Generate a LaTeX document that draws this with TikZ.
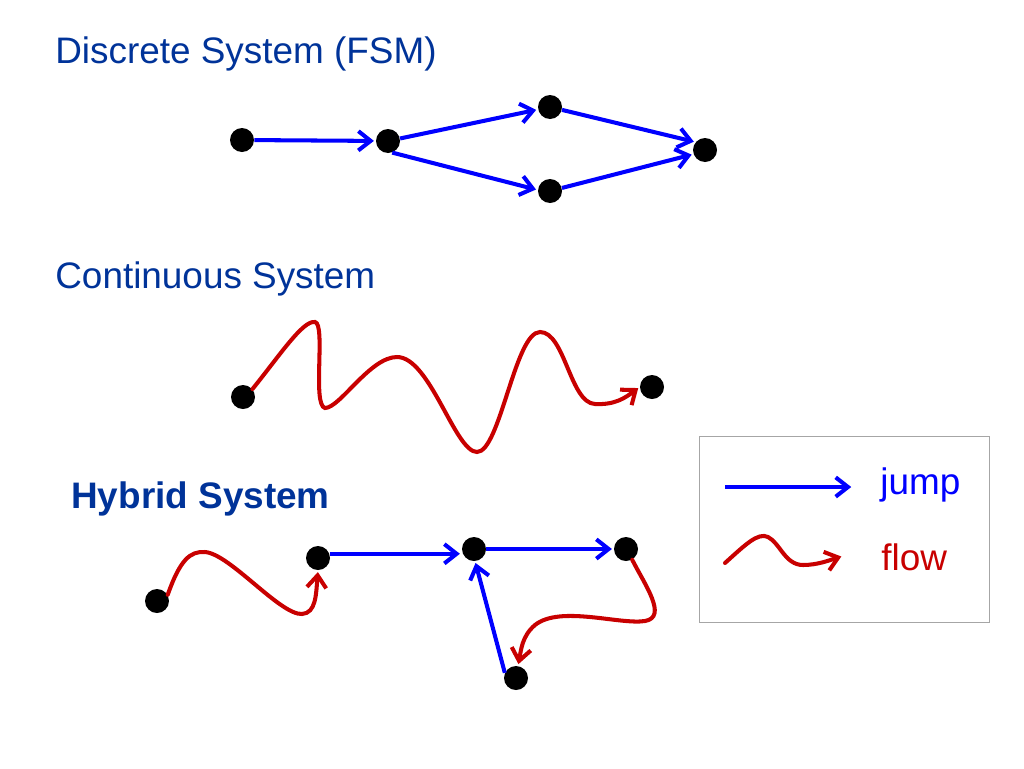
\documentclass[tikz,border=0pt]{standalone}
\usepackage{fontspec}
\setmainfont{Liberation Sans}
\usetikzlibrary{arrows.meta}
\definecolor{titleblue}{RGB}{0,51,153}
\definecolor{flowred}{RGB}{200,0,0}

\begin{document}
\begin{tikzpicture}[x=0.02cm,y=-0.02cm,
    dot/.style={circle,fill=black,inner sep=0pt,minimum size=0.48cm},
    jump/.style={blue,line width=2.3pt,-{Straight Barb[length=7pt,width=11pt]},shorten >=1pt},
    flow/.style={flowred,line width=2.3pt,line cap=round,-{Straight Barb[length=7pt,width=11pt]},shorten >=1pt},
    title/.style={anchor=base west,inner sep=0pt,titleblue,font=\fontsize{21}{25}\selectfont},
    legend/.style={anchor=base west,inner sep=0pt,font=\fontsize{21}{25}\selectfont}]
    \useasboundingbox (0,0) rectangle (1024,768);

    % discrete system
    \node[title] (tdisc) at (55,63) {Discrete System (FSM)};
    \node[dot] (d1) at (242,140) {};
    \node[dot] (d2) at (388,141) {};
    \node[dot] (d3) at (550,107) {};
    \node[dot] (d4) at (550,191) {};
    \node[dot] (d5) at (705,150) {};
    \draw[jump] (d1) -- (d2);
    \draw[jump] (d2) -- (d3);
    \draw[jump] (d2.-70) -- (d4.175);
    \draw[jump] (d3) -- (d5.140);
    \draw[jump] (d4) -- (d5.200);

    % continuous system
    \node[title] (tcont) at (55,288) {Continuous System};
    \node[dot] (c1) at (243,397) {};
    \node[dot] (c2) at (652,387) {};
    \draw[flow] (c1.40) .. controls (280,355) and (303,320) .. (315,322)
        .. controls (326,324) and (312,405) .. (325,408)
        .. controls (340,408) and (370,357) .. (397,357)
        .. controls (430,357) and (455,452) .. (477,452)
        .. controls (500,452) and (515,332) .. (540,332)
        .. controls (565,332) and (570,403) .. (595,404)
        .. controls (615,405) and (625,398) .. (c2.west);

    % hybrid system
    \node[title,font=\fontsize{21}{25}\selectfont\bfseries] (thyb) at (71,508) {Hybrid System};
    \node[dot] (h1) at (157,601) {};
    \node[dot] (h2) at (318,558) {};
    \node[dot] (h3) at (474,549) {};
    \node[dot] (h4) at (626,549) {};
    \node[dot] (h5) at (516,678) {};
    \draw[flow] (h1.30) .. controls (180,560) and (190,551) .. (205,552)
        .. controls (230,554) and (280,615) .. (302,614)
        .. controls (316,613) and (316,595) .. (h2.south);
    \draw[jump] (h2.20) -- (h2.20 -| h3.west);
    \draw[jump] (h3) -- (h4);
    \draw[jump] (h5.155) -- (h3.-85);
    \draw[flow] (h4.-60) .. controls (645,585) and (668,617) .. (645,621)
        .. controls (620,625) and (560,605) .. (535,625)
        .. controls (522,636) and (521,650) .. (h5.80);

    % legend
    \draw[gray!70] (699,436) rectangle (989,622);
    \coordinate (ja) at (725,487);
    \coordinate (jb) at (853,487);
    \draw[jump] (ja) -- (jb);
    \node[legend,blue] (ljump) at (880,494) {jump};
    \coordinate (fa) at (725,563);
    \coordinate (fb) at (843,556);
    \draw[flow] (fa) .. controls (745,545) and (758,532) .. (768,537)
        .. controls (780,543) and (785,565) .. (803,565)
        .. controls (818,565) and (830,560) .. (fb);
    \node[legend,flowred] (lflow) at (881,570) {flow};
\end{tikzpicture}
\end{document}
